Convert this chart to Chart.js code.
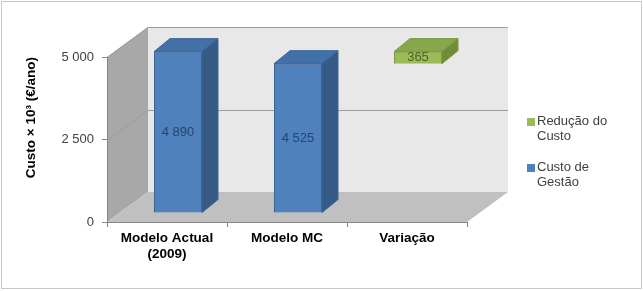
<!DOCTYPE html>
<html>
<head>
<meta charset="utf-8">
<script src="https://cdn.jsdelivr.net/npm/chart.js@4.4.0/dist/chart.umd.min.js"></script>
<style>
  body { margin: 0; background: #fff; }
  #wrap { position: relative; width: 643px; height: 291px; }
  #legend { position: absolute; left: 527px; top: 113px; font: 13px "Liberation Sans", Arial, sans-serif; color: #404040; line-height: 15px; }
  .item { display: flex; align-items: flex-start; margin-bottom: 16px; }
  .sw { width: 8px; height: 8px; margin-top: 5px; margin-right: 2px; flex: none; }
</style>
</head>
<body>
<div id="wrap">
  <canvas id="c" width="643" height="291"></canvas>
  <div id="legend"></div>
</div>
<script>
// Dados do gráfico
const categories = [['Modelo Actual', '(2009)'], 'Modelo MC', 'Variação'];
const custoGestao = [4890, 4525, null];
const reducaoCusto = [null, null, 365];
const yTicks = [0, 2500, 5000];

// Profundidade "3D"
const DEPTH = { x: 41, y: -30 };
const BAR_OFF = { x: 11, y: -9 };
const BAR_DEPTH = { x: 16, y: -13 };

const FONT = '"Liberation Sans", Arial, sans-serif';

function fmt(v) {
    return String(v).replace(/\B(?=(\d{3})+(?!\d))/g, ' ');
}

function poly(ctx, pts, fill, stroke) {
    ctx.beginPath();
    ctx.moveTo(pts[0][0], pts[0][1]);
    for (let i = 1; i < pts.length; i++) ctx.lineTo(pts[i][0], pts[i][1]);
    ctx.closePath();
    ctx.fillStyle = fill;
    ctx.fill();
    if (stroke) { ctx.strokeStyle = stroke; ctx.lineWidth = 1; ctx.stroke(); }
}

const walls3d = {
    id: 'walls3d',
    beforeDraw(chart) {
        const { ctx, chartArea: a, scales: { y } } = chart;
        const dx = DEPTH.x, dy = DEPTH.y;
        ctx.save();
        // moldura exterior
        ctx.strokeStyle = '#c8c8c8';
        ctx.lineWidth = 1;
        ctx.strokeRect(1.5, 1.5, 640, 287);
        // parede de fundo
        ctx.fillStyle = '#e8e8e8';
        ctx.fillRect(a.left + dx, a.top + dy, a.right - a.left, a.bottom - a.top);
        // parede esquerda
        poly(ctx, [[a.left, a.top], [a.left + dx, a.top + dy], [a.left + dx, a.bottom + dy], [a.left, a.bottom]], '#a8a8a8');
        // chão
        poly(ctx, [[a.left, a.bottom], [a.right, a.bottom], [a.right + dx, a.bottom + dy], [a.left + dx, a.bottom + dy]], '#c0c0c0');
        // grelha
        ctx.strokeStyle = '#9c9c9c';
        ctx.lineWidth = 1;
        y.ticks.forEach(t => {
            if (t.value === 0) return;
            const py = Math.round(y.getPixelForValue(t.value)) + 0.5;
            ctx.beginPath();
            ctx.moveTo(a.left, py);
            ctx.lineTo(a.left + dx, py + dy);
            ctx.lineTo(a.right + dx, py + dy);
            ctx.stroke();
        });
        ctx.restore();
    },
    beforeDatasetsDraw(chart) {
        chart.ctx.save();
        chart.ctx.translate(BAR_OFF.x, BAR_OFF.y);
    },
    afterDatasetsDraw(chart) {
        const ctx = chart.ctx;
        const bx = BAR_DEPTH.x, by = BAR_DEPTH.y;
        chart.data.datasets.forEach((ds, i) => {
            chart.getDatasetMeta(i).data.forEach((bar, j) => {
                if (ds.data[j] == null) return;
                const { x, y, base, width } = bar.getProps(['x', 'y', 'base', 'width'], true);
                const l = x - width / 2, r = x + width / 2;
                const top = Math.min(y, base), bot = Math.max(y, base);
                poly(ctx, [[l, top], [r, top], [r + bx, top + by], [l + bx, top + by]], ds.topColor, ds.borderColor);
                poly(ctx, [[r, top], [r + bx, top + by], [r + bx, bot + by], [r, bot]], ds.sideColor, ds.borderColor);
                ctx.fillStyle = ds.labelColor;
                ctx.font = '13px ' + FONT;
                ctx.textAlign = 'center';
                ctx.textBaseline = 'middle';
                ctx.fillText(fmt(ds.values[j]), x, (top + bot) / 2);
            });
        });
        ctx.restore();
    }
};

new Chart(document.getElementById('c'), {
    type: 'bar',
    data: {
        labels: categories,
        datasets: [
            {
                label: 'Custo de Gestão',
                data: custoGestao,
                values: custoGestao,
                backgroundColor: '#4f81bd',
                borderColor: '#3b6494',
                borderWidth: 1,
                topColor: '#4271a8',
                sideColor: '#365a86',
                labelColor: '#23466f',
                grouped: false
            },
            {
                label: 'Redução do Custo',
                data: reducaoCusto.map(v => v == null ? null : [custoGestao[0] - v, custoGestao[0]]),
                values: reducaoCusto,
                backgroundColor: '#9bbb59',
                borderColor: '#789a3c',
                borderWidth: 1,
                topColor: '#86a74a',
                sideColor: '#6f8c38',
                labelColor: '#4f6228',
                grouped: false
            }
        ]
    },
    options: {
        responsive: false,
        animation: false,
        categoryPercentage: 1,
        barPercentage: 0.4,
        layout: { padding: { left: 20, right: 176, top: 57, bottom: 20 } },
        plugins: { legend: { display: false }, tooltip: { enabled: false } },
        scales: {
            x: {
                afterFit: s => { s.height = 49; },
                grid: { drawOnChartArea: false, tickLength: 5, color: '#868686' },
                border: { color: '#868686' },
                ticks: { color: '#000', padding: 3, font: { family: FONT, size: 13.5, weight: 'bold' } }
            },
            y: {
                min: 0,
                max: 5000,
                afterBuildTicks: s => { s.ticks = yTicks.map(v => ({ value: v })); },
                afterFit: s => { s.width = 87; },
                grid: { drawOnChartArea: false, tickLength: 5, color: '#868686' },
                border: { color: '#868686' },
                ticks: { color: '#404040', padding: 8, font: { family: FONT, size: 13 }, callback: v => fmt(v) },
                title: { display: true, text: 'Custo × 10³ (€/ano)', align: 'end', color: '#000', padding: { top: 3, bottom: 4 }, font: { family: FONT, size: 13.5, weight: 'bold' } }
            }
        }
    },
    plugins: [walls3d]
});

// Legenda
const legendItems = [
    { text: ['Redução do', 'Custo'], color: '#9bbb59' },
    { text: ['Custo de', 'Gestão'], color: '#4f81bd' }
];
document.getElementById('legend').innerHTML = legendItems.map(it =>
    '<div class="item"><div class="sw" style="background:' + it.color + '"></div><div>' + it.text.join('<br>') + '</div></div>'
).join('');
</script>
</body>
</html>
